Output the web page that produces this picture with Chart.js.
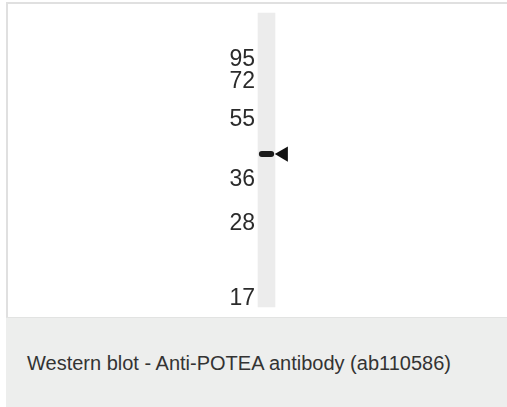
<!DOCTYPE html>
<html>
<head>
<meta charset="utf-8">
<script src="https://cdn.jsdelivr.net/npm/chart.js@4/dist/chart.umd.min.js"></script>
<style>
  html, body { margin: 0; padding: 0; background: #fff; }
  body { width: 507px; height: 407px; position: relative; overflow: hidden; font-family: "Liberation Sans", Arial, sans-serif; }
  #panel { position: absolute; left: 6px; top: 2px; width: 501px; height: 314px; border-left: 2px solid #e0e0e0; border-top: 2px solid #e0e0e0; background: #fff; }
  #plot { position: absolute; left: 0; top: 0; width: 507px; height: 318px; }
  #caption { position: absolute; left: 6px; top: 317px; width: 501px; height: 90px; background: #edeeed; border-top: 1px solid #e2e3e2; }
  #caption span { position: absolute; left: 21px; top: 35px; font-size: 20px; line-height: 20px; color: #333; white-space: nowrap; }
</style>
</head>
<body>
<div id="panel"></div>
<div id="plot"><canvas id="blot"></canvas></div>
<div id="caption"><span id="captionText"></span></div>
<script>
// molecular weight markers (kDa) and how far down the lane each one sits (% of lane length)
const markerLabels = ["95", "72", "55", "36", "28", "17"];
const markerMigration = [15.3, 22.8, 35.7, 56.1, 71.1, 96.6];

// one sample lane plus a slot for the arrow that points at the band
const lanes = ["POTEA", "arrow"];
const laneExtent = [0, 100];
const bandMigration = [46.9, 49.0];
const arrowMigration = 48.0;

const captionText = "Western blot - Anti-POTEA antibody (ab110586)";

function initialize() {
  document.getElementById("captionText").textContent = captionText;

  new Chart(document.getElementById("blot").getContext("2d"), {
    type: "bar",
    data: {
      labels: lanes,
      datasets: [
        {
          label: "band",
          data: [bandMigration, null],
          backgroundColor: "#1b1b1b",
          borderRadius: 3,
          borderSkipped: false,
          grouped: false,
          barPercentage: 0.9,
          categoryPercentage: 1,
          order: 1,
        },
        {
          label: "lane",
          data: [laneExtent, null],
          backgroundColor: "#ececec",
          grouped: false,
          barPercentage: 1,
          categoryPercentage: 1,
          order: 2,
        },
        {
          type: "line",
          label: "arrow",
          data: [null, arrowMigration],
          showLine: false,
          pointStyle: "triangle",
          rotation: 270,
          pointRadius: 8.7,
          pointHoverRadius: 8.7,
          backgroundColor: "#111",
          borderColor: "#111",
          borderWidth: 0,
          order: 0,
        },
      ],
    },
    options: {
      responsive: true,
      maintainAspectRatio: false,
      animation: false,
      events: [],
      clip: false,
      layout: {
        padding: { left: 0, right: 215, top: 13, bottom: 11 },
      },
      plugins: {
        legend: { display: false },
        tooltip: { enabled: false },
      },
      scales: {
        x: {
          display: false,
        },
        y: {
          min: 0,
          max: 100,
          reverse: true,
          border: { display: false },
          grid: { display: false, drawTicks: false },
          afterBuildTicks: (scale) => {
            scale.ticks = markerMigration.map((v) => ({ value: v }));
          },
          afterFit: (scale) => {
            scale.width = 258;
            scale.paddingTop = 0;
            scale.paddingBottom = 0;
          },
          ticks: {
            padding: 3,
            labelOffset: 2,
            color: "#2b2b2b",
            autoSkip: false,
            font: { family: "'Liberation Sans', Arial, sans-serif", size: 23, lineHeight: 1 },
            callback: (value) => markerLabels[markerMigration.indexOf(value)],
          },
        },
      },
    },
  });
}

initialize();
</script>
</body>
</html>
